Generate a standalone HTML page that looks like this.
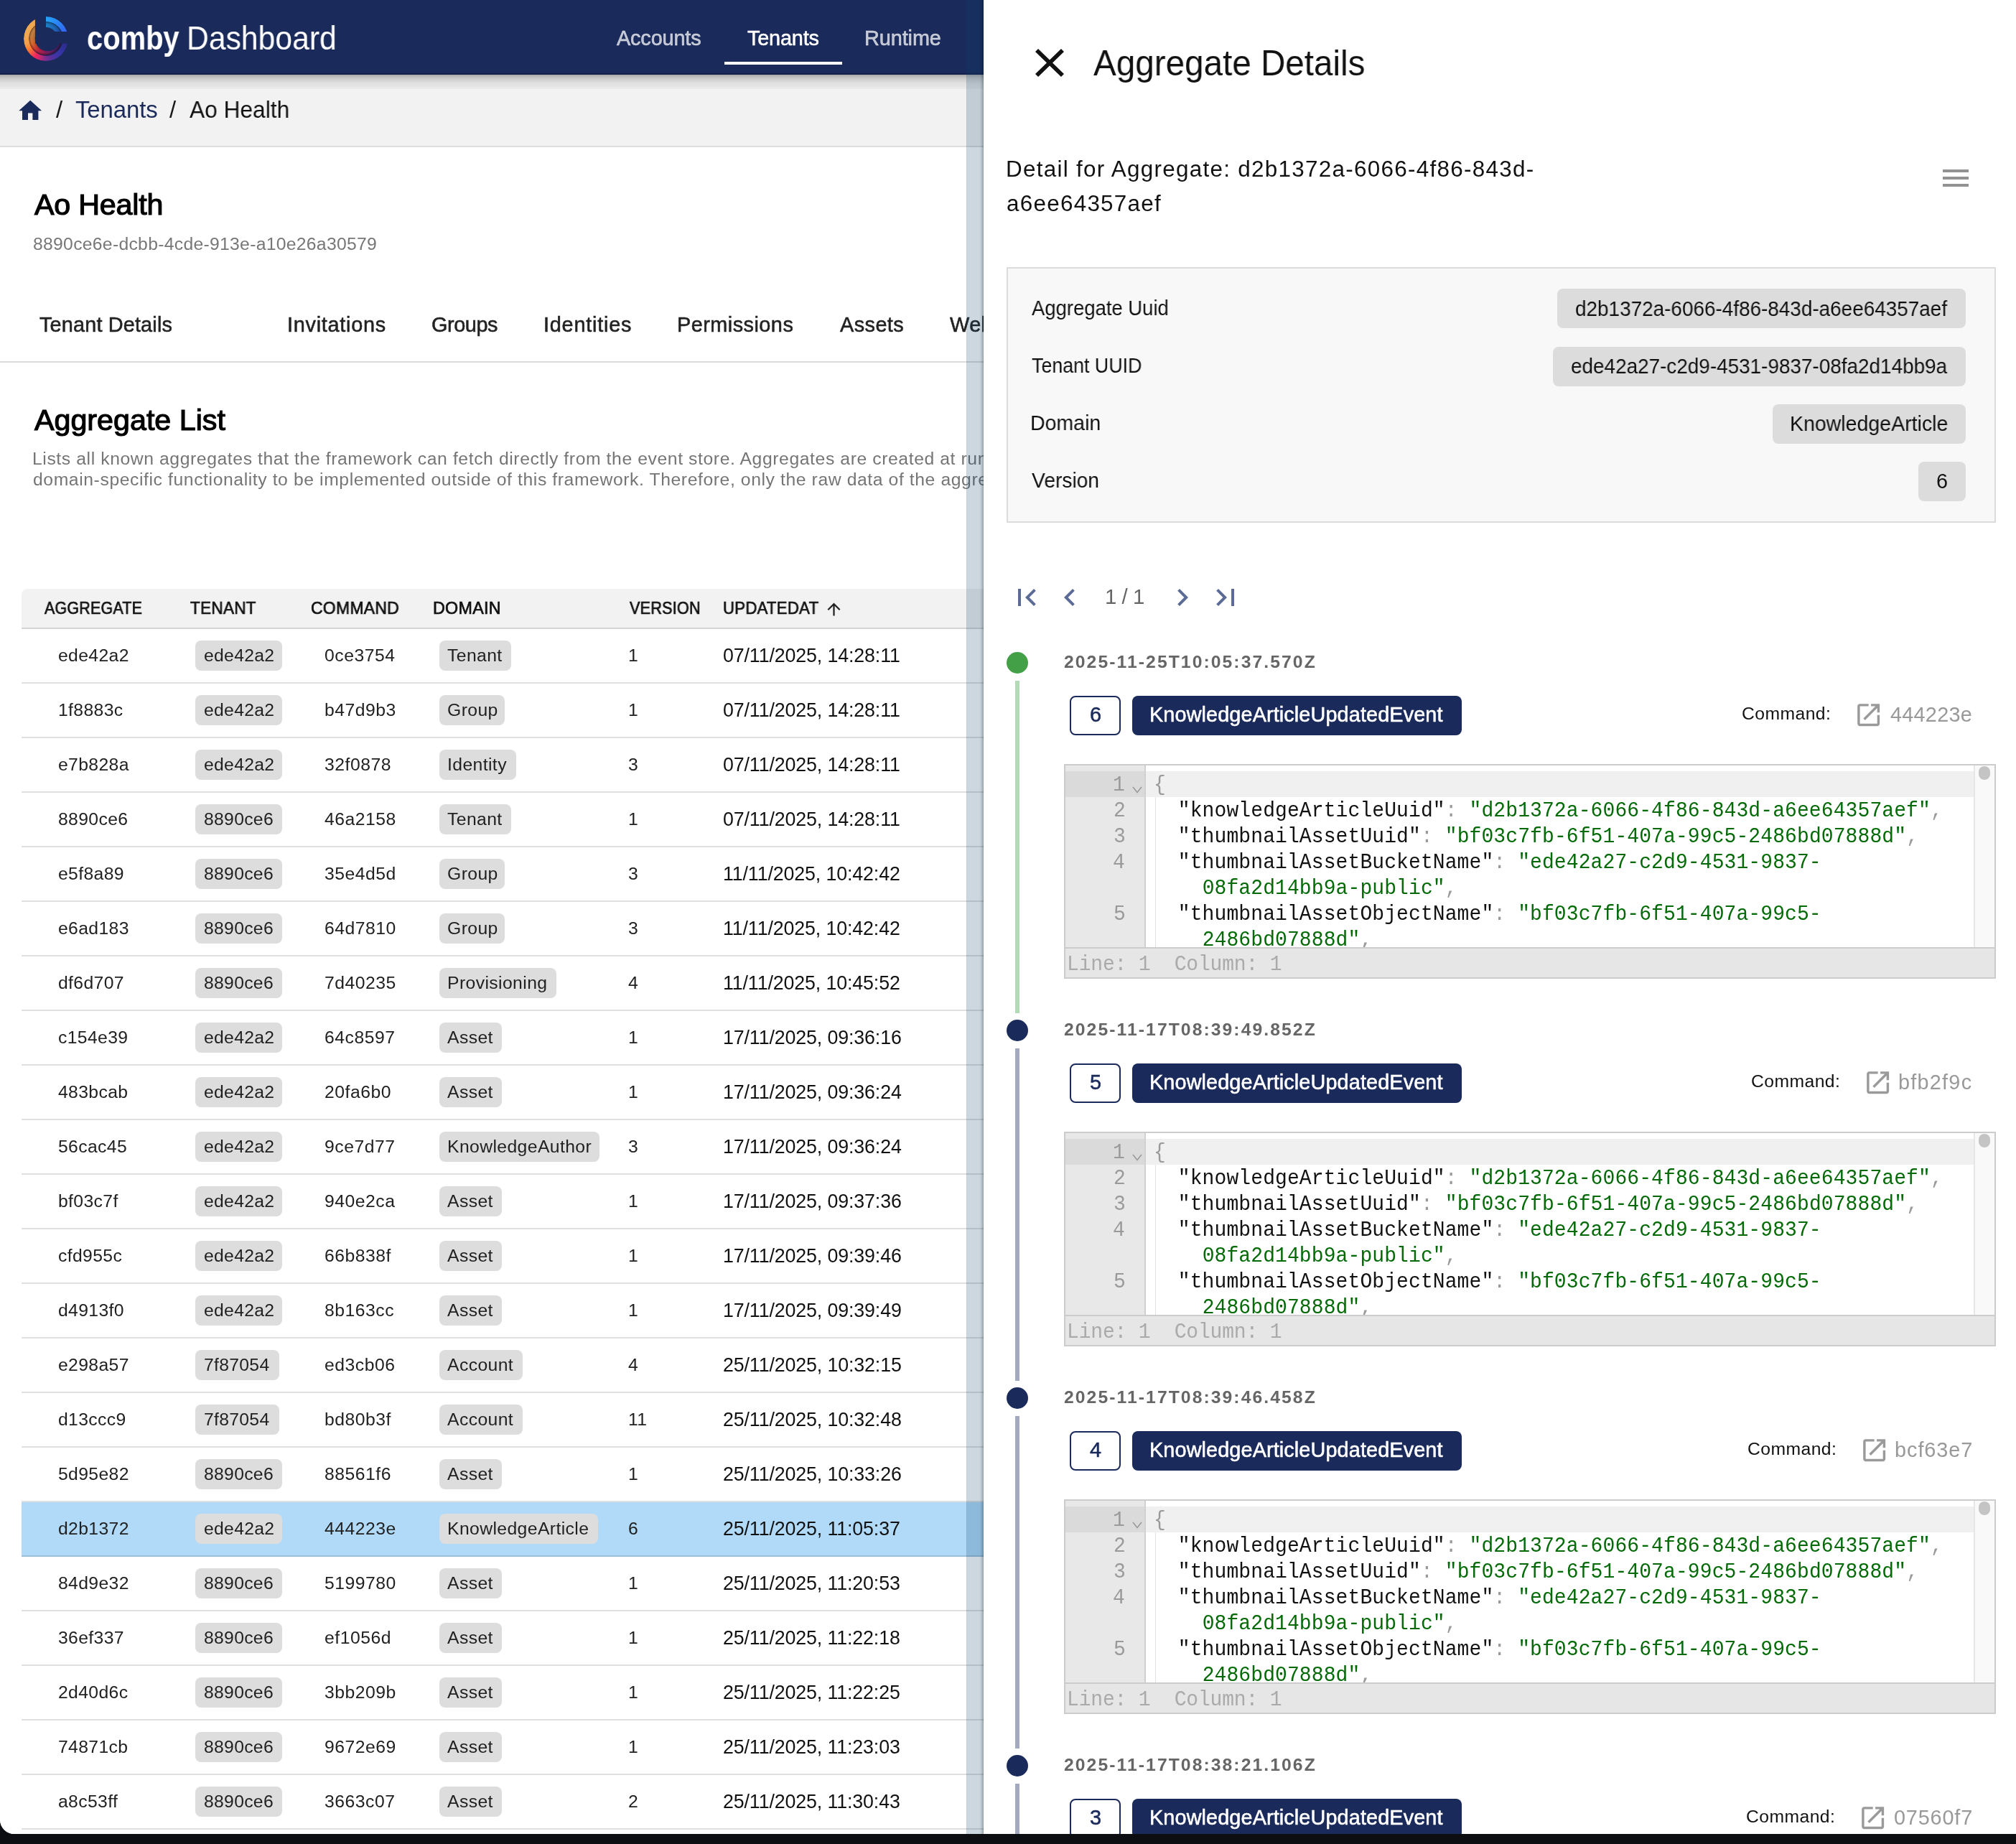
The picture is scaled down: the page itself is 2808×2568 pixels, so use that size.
<!DOCTYPE html><html><head><meta charset="utf-8"><style>*{box-sizing:border-box;margin:0;padding:0}html,body{width:2808px;height:2568px;overflow:hidden;background:#0d0e11}.win{position:absolute;left:0;top:0;width:2808px;height:2554px;background:#fff;overflow:hidden;border-bottom-left-radius:20px}.t{position:absolute;white-space:pre;line-height:1;font-family:"Liberation Sans",sans-serif;will-change:transform}.m{font-family:"Liberation Mono",monospace}</style></head><body><div class="win"><div style="position:absolute;left:0;top:0;width:1370px;height:2554px;overflow:hidden;background:#fff"><div style="position:absolute;left:0px;top:104px;width:1370px;height:101px;background:#f2f2f2"></div><div style="position:absolute;left:0px;top:104px;width:1370px;height:20px;background:linear-gradient(to bottom,rgba(0,0,0,0.30),rgba(0,0,0,0.17) 25%,rgba(0,0,0,0.07) 60%,rgba(0,0,0,0.03))"></div><div style="position:absolute;left:0px;top:124px;width:1370px;height:79px;background:#f2f2f2"></div><div style="position:absolute;left:0px;top:203px;width:1370px;height:2px;background:#dcdcdc"></div><div style="position:absolute;left:0px;top:0px;width:1370px;height:104px;background:#1a2a5a;z-index:2"></div><div style="position:absolute;left:0px;top:102px;width:1370px;height:2px;background:rgba(0,0,30,0.25);z-index:2"></div><div style="position:absolute;left:0;top:0;width:1370px;height:104px;z-index:3"><div style="position:absolute;left:0;top:0;width:120px;height:104px"><div style="position:absolute;left:32.50px;top:22.50px;width:62.50px;height:62.50px;border-radius:50%;background:conic-gradient(from 0deg, #2c2a88 0deg, #2c2a88 100deg, #3535a8 135deg, #4a32a0 158deg, #7a2d8f 180deg, #c02870 197deg, #f0245f 210deg, #f85545 225deg, #ff7f30 240deg, #f5a04a 258deg, #f0a850 285deg, #f0a850 360deg);-webkit-mask:radial-gradient(circle 23.5px at 31.25px 31.25px, transparent 23.10px, #000 23.90px);mask:radial-gradient(circle 23.5px at 31.25px 31.25px, transparent 23.10px, #000 23.90px);clip-path:polygon(-32.50px -22.50px,16.40px -22.50px,16.40px 37.90px,87.50px 37.90px,87.50px 81.50px,-32.50px 81.50px)"></div><div style="position:absolute;left:40.25px;top:30.25px;width:47.00px;height:47.00px;border-radius:50%;background:radial-gradient(circle at 50% 50%, rgba(0,0,0,0.25) 0px, rgba(0,0,0,0.1) 17.5px, rgba(0,0,0,0) 19.5px, rgba(0,0,0,0.15) 21.5px, rgba(0,0,0,0.5) 23.5px),conic-gradient(from 0deg, #301c58 0deg, #301c58 100deg, #4a1f66 140deg, #7a1f60 175deg, #c02048 208deg, #d84a30 232deg, #e07030 252deg, #c88040 280deg, #b88045 360deg);-webkit-mask:radial-gradient(circle 17.6px at 26.25px 23.50px, transparent 17.20px, #000 18.00px);mask:radial-gradient(circle 17.6px at 26.25px 23.50px, transparent 17.20px, #000 18.00px);clip-path:polygon(-40.25px -30.25px,8.65px -30.25px,8.65px 30.15px,79.75px 30.15px,79.75px 73.75px,-40.25px 73.75px)"></div><div style="position:absolute;left:32.50px;top:22.50px;width:62.50px;height:62.50px;border-radius:50%;background:conic-gradient(from 0deg, #25a2f8 0deg, #2b86f6 35deg, #3463f6 72deg, #3463f6 360deg);-webkit-mask:radial-gradient(circle 23.9px at 31.25px 31.25px, transparent 23.50px, #000 24.30px);mask:radial-gradient(circle 23.9px at 31.25px 31.25px, transparent 23.50px, #000 24.30px);clip-path:polygon(31.40px -22.50px,87.50px -22.50px,87.50px 21.50px,31.40px 21.50px)"></div><div style="position:absolute;left:39.85px;top:29.85px;width:47.80px;height:47.80px;border-radius:50%;background:radial-gradient(circle at 50% 50%, rgba(0,0,0,0.1) 15.5px, rgba(0,0,0,0) 18px, rgba(0,0,0,0.15) 21.5px, rgba(0,0,0,0.5) 23.9px),conic-gradient(from 0deg, #1d84cc 0deg, #1f6cc0 35deg, #2250b0 72deg, #2250b0 360deg);-webkit-mask:radial-gradient(circle 15.85px at 23.90px 23.90px, transparent 15.45px, #000 16.25px);mask:radial-gradient(circle 15.85px at 23.90px 23.90px, transparent 15.45px, #000 16.25px);clip-path:polygon(24.05px -29.85px,80.15px -29.85px,80.15px 14.15px,24.05px 14.15px)"></div></div><div class="t" style="left:120.84px;top:30.78px;font-size:45.32px;color:#fff;font-weight:700;transform:scale(0.8806,1);transform-origin:0 38.52px;">comby</div><div class="t" style="left:259.63px;top:30.78px;font-size:45.32px;color:#fff;transform:scale(0.9414,1);transform-origin:0 38.52px;">Dashboard</div><div class="t" style="left:858.60px;top:39.49px;font-size:28.84px;color:rgba(255,255,255,0.72);letter-spacing:-0.143px;-webkit-text-stroke:0.55px rgba(255,255,255,0.72);">Accounts</div><div class="t" style="left:1041.00px;top:39.49px;font-size:28.84px;color:#fff;letter-spacing:-0.167px;-webkit-text-stroke:0.55px #fff;">Tenants</div><div class="t" style="left:1204.00px;top:39.49px;font-size:28.84px;color:rgba(255,255,255,0.72);letter-spacing:-0.083px;-webkit-text-stroke:0.55px rgba(255,255,255,0.72);">Runtime</div><div style="position:absolute;left:1009px;top:86px;width:164px;height:4px;background:#fff"></div></div><svg style="position:absolute;left:22.7px;top:134.5px;" width="38.4" height="38.4" viewBox="0 0 24 24"><path fill="#1a2a5a" d="M10 20v-6h4v6h5v-8h3L12 3 2 12h3v8z"/></svg><div class="t" style="left:78.00px;top:137.38px;font-size:32.96px;color:#1a1a1a;">/</div><div class="t" style="left:105.30px;top:137.38px;font-size:32.96px;color:#1a2a5a;letter-spacing:-0.108px;">Tenants</div><div class="t" style="left:236.00px;top:137.38px;font-size:32.96px;color:#1a1a1a;">/</div><div class="t" style="left:264.30px;top:137.38px;font-size:32.96px;color:#111;transform:scale(0.9615,1);transform-origin:0 28.02px;">Ao Health</div><div class="t" style="left:47.50px;top:265.28px;font-size:41.20px;color:#000;letter-spacing:-0.188px;-webkit-text-stroke:1.2px #000;">Ao Health</div><div class="t" style="left:45.50px;top:328.09px;font-size:24.72px;color:#777;letter-spacing:0.289px;">8890ce6e-dcbb-4cde-913e-a10e26a30579</div><div class="t" style="left:54.80px;top:438.09px;font-size:28.84px;color:#222;letter-spacing:0.169px;-webkit-text-stroke:0.55px #222;">Tenant Details</div><div class="t" style="left:399.70px;top:438.09px;font-size:28.84px;color:#222;letter-spacing:0.740px;-webkit-text-stroke:0.55px #222;">Invitations</div><div class="t" style="left:601.00px;top:438.09px;font-size:28.84px;color:#222;letter-spacing:-0.400px;-webkit-text-stroke:0.55px #222;">Groups</div><div class="t" style="left:757.00px;top:438.09px;font-size:28.84px;color:#222;letter-spacing:0.778px;-webkit-text-stroke:0.55px #222;">Identities</div><div class="t" style="left:943.00px;top:438.09px;font-size:28.84px;color:#222;letter-spacing:0.480px;-webkit-text-stroke:0.55px #222;">Permissions</div><div class="t" style="left:1169.60px;top:438.09px;font-size:28.84px;color:#222;letter-spacing:0.440px;-webkit-text-stroke:0.55px #222;">Assets</div><div class="t" style="left:1323.00px;top:438.09px;font-size:28.84px;color:#222;letter-spacing:0.440px;-webkit-text-stroke:0.55px #222;">Webhooks</div><div style="position:absolute;left:0px;top:503px;width:1370px;height:2px;background:#dcdcdc"></div><div class="t" style="left:47.60px;top:564.58px;font-size:41.20px;color:#000;letter-spacing:0.023px;-webkit-text-stroke:1.2px #000;">Aggregate List</div><div class="t" style="left:44.60px;top:626.89px;font-size:24.72px;color:#757575;letter-spacing:0.589px;">Lists all known aggregates that the framework can fetch directly from the event store. Aggregates are created at runtime by the framework</div><div class="t" style="left:45.60px;top:655.69px;font-size:24.72px;color:#757575;letter-spacing:0.589px;">domain-specific functionality to be implemented outside of this framework. Therefore, only the raw data of the aggregates can be shown</div><div style="position:absolute;left:30px;top:820px;width:1340px;height:54px;background:#f2f2f2;border-top-left-radius:8px"></div><div style="position:absolute;left:30px;top:874px;width:1340px;height:2px;background:rgba(0,0,0,0.17)"></div><div class="t" style="left:62.10px;top:836.01px;font-size:23.28px;color:#111;letter-spacing:0.300px;-webkit-text-stroke:0.7px #111;transform:scale(0.9182,1);transform-origin:0 19.79px;">AGGREGATE</div><div class="t" style="left:265.00px;top:836.01px;font-size:23.28px;color:#111;letter-spacing:0.300px;-webkit-text-stroke:0.7px #111;transform:scale(0.9681,1);transform-origin:0 19.79px;">TENANT</div><div class="t" style="left:432.71px;top:836.01px;font-size:23.28px;color:#111;letter-spacing:0.300px;-webkit-text-stroke:0.7px #111;transform:scale(0.9854,1);transform-origin:0 19.79px;">COMMAND</div><div class="t" style="left:603.00px;top:836.01px;font-size:23.28px;color:#111;letter-spacing:0.300px;-webkit-text-stroke:0.7px #111;">DOMAIN</div><div class="t" style="left:876.60px;top:836.01px;font-size:23.28px;color:#111;letter-spacing:0.300px;-webkit-text-stroke:0.7px #111;transform:scale(0.9257,1);transform-origin:0 19.79px;">VERSION</div><div class="t" style="left:1006.55px;top:836.01px;font-size:23.28px;color:#111;letter-spacing:0.300px;-webkit-text-stroke:0.7px #111;transform:scale(0.9511,1);transform-origin:0 19.79px;">UPDATEDAT</div><svg style="position:absolute;left:1147.5px;top:835px;" width="27" height="27" viewBox="0 0 24 24"><path fill="#222" d="M4 12l1.41 1.41L11 7.83V20h2V7.83l5.58 5.59L20 12l-8-8-8 8z"/></svg><div style="position:absolute;left:30px;top:950px;width:1340px;height:2px;background:rgba(0,0,0,0.12)"></div><div class="t" style="left:80.60px;top:901.09px;font-size:24.72px;color:#212121;letter-spacing:0.367px;">ede42a2</div><div style="position:absolute;left:272px;top:892px;width:120.9px;height:42px;background:#dddddd;border-radius:8px"></div><div class="t" style="left:283.60px;top:901.09px;font-size:24.72px;color:#212121;letter-spacing:0.300px;">ede42a2</div><div class="t" style="left:452.00px;top:901.09px;font-size:24.72px;color:#212121;letter-spacing:0.517px;">0ce3754</div><div style="position:absolute;left:612px;top:892px;width:100px;height:42px;background:#dddddd;border-radius:8px"></div><div class="t" style="left:623.00px;top:901.09px;font-size:24.72px;color:#212121;letter-spacing:0.400px;">Tenant</div><div class="t" style="left:874.60px;top:901.09px;font-size:24.72px;color:#212121;letter-spacing:0.367px;">1</div><div class="t" style="left:1006.80px;top:899.94px;font-size:26.78px;color:#111;letter-spacing:-0.116px;">07/11/2025, 14:28:11</div><div style="position:absolute;left:30px;top:1026px;width:1340px;height:2px;background:rgba(0,0,0,0.12)"></div><div class="t" style="left:80.60px;top:977.09px;font-size:24.72px;color:#212121;letter-spacing:0.367px;">1f8883c</div><div style="position:absolute;left:272px;top:968px;width:120.9px;height:42px;background:#dddddd;border-radius:8px"></div><div class="t" style="left:283.60px;top:977.09px;font-size:24.72px;color:#212121;letter-spacing:0.300px;">ede42a2</div><div class="t" style="left:452.00px;top:977.09px;font-size:24.72px;color:#212121;letter-spacing:0.517px;">b47d9b3</div><div style="position:absolute;left:612px;top:968px;width:90.70000000000005px;height:42px;background:#dddddd;border-radius:8px"></div><div class="t" style="left:623.00px;top:977.09px;font-size:24.72px;color:#212121;letter-spacing:0.400px;">Group</div><div class="t" style="left:874.60px;top:977.09px;font-size:24.72px;color:#212121;letter-spacing:0.367px;">1</div><div class="t" style="left:1006.80px;top:975.94px;font-size:26.78px;color:#111;letter-spacing:-0.116px;">07/11/2025, 14:28:11</div><div style="position:absolute;left:30px;top:1102px;width:1340px;height:2px;background:rgba(0,0,0,0.12)"></div><div class="t" style="left:80.60px;top:1053.09px;font-size:24.72px;color:#212121;letter-spacing:0.367px;">e7b828a</div><div style="position:absolute;left:272px;top:1044px;width:120.9px;height:42px;background:#dddddd;border-radius:8px"></div><div class="t" style="left:283.60px;top:1053.09px;font-size:24.72px;color:#212121;letter-spacing:0.300px;">ede42a2</div><div class="t" style="left:452.00px;top:1053.09px;font-size:24.72px;color:#212121;letter-spacing:0.517px;">32f0878</div><div style="position:absolute;left:612px;top:1044px;width:106.60000000000002px;height:42px;background:#dddddd;border-radius:8px"></div><div class="t" style="left:623.00px;top:1053.09px;font-size:24.72px;color:#212121;letter-spacing:0.400px;">Identity</div><div class="t" style="left:874.60px;top:1053.09px;font-size:24.72px;color:#212121;letter-spacing:0.367px;">3</div><div class="t" style="left:1006.80px;top:1051.94px;font-size:26.78px;color:#111;letter-spacing:-0.116px;">07/11/2025, 14:28:11</div><div style="position:absolute;left:30px;top:1178px;width:1340px;height:2px;background:rgba(0,0,0,0.12)"></div><div class="t" style="left:80.60px;top:1129.09px;font-size:24.72px;color:#212121;letter-spacing:0.367px;">8890ce6</div><div style="position:absolute;left:272px;top:1120px;width:120.9px;height:42px;background:#dddddd;border-radius:8px"></div><div class="t" style="left:283.60px;top:1129.09px;font-size:24.72px;color:#212121;letter-spacing:0.300px;">8890ce6</div><div class="t" style="left:452.00px;top:1129.09px;font-size:24.72px;color:#212121;letter-spacing:0.517px;">46a2158</div><div style="position:absolute;left:612px;top:1120px;width:100px;height:42px;background:#dddddd;border-radius:8px"></div><div class="t" style="left:623.00px;top:1129.09px;font-size:24.72px;color:#212121;letter-spacing:0.400px;">Tenant</div><div class="t" style="left:874.60px;top:1129.09px;font-size:24.72px;color:#212121;letter-spacing:0.367px;">1</div><div class="t" style="left:1006.80px;top:1127.94px;font-size:26.78px;color:#111;letter-spacing:-0.116px;">07/11/2025, 14:28:11</div><div style="position:absolute;left:30px;top:1254px;width:1340px;height:2px;background:rgba(0,0,0,0.12)"></div><div class="t" style="left:80.60px;top:1205.09px;font-size:24.72px;color:#212121;letter-spacing:0.367px;">e5f8a89</div><div style="position:absolute;left:272px;top:1196px;width:120.9px;height:42px;background:#dddddd;border-radius:8px"></div><div class="t" style="left:283.60px;top:1205.09px;font-size:24.72px;color:#212121;letter-spacing:0.300px;">8890ce6</div><div class="t" style="left:452.00px;top:1205.09px;font-size:24.72px;color:#212121;letter-spacing:0.517px;">35e4d5d</div><div style="position:absolute;left:612px;top:1196px;width:90.70000000000005px;height:42px;background:#dddddd;border-radius:8px"></div><div class="t" style="left:623.00px;top:1205.09px;font-size:24.72px;color:#212121;letter-spacing:0.400px;">Group</div><div class="t" style="left:874.60px;top:1205.09px;font-size:24.72px;color:#212121;letter-spacing:0.367px;">3</div><div class="t" style="left:1006.80px;top:1203.94px;font-size:26.78px;color:#111;letter-spacing:-0.116px;">11/11/2025, 10:42:42</div><div style="position:absolute;left:30px;top:1330px;width:1340px;height:2px;background:rgba(0,0,0,0.12)"></div><div class="t" style="left:80.60px;top:1281.09px;font-size:24.72px;color:#212121;letter-spacing:0.367px;">e6ad183</div><div style="position:absolute;left:272px;top:1272px;width:120.9px;height:42px;background:#dddddd;border-radius:8px"></div><div class="t" style="left:283.60px;top:1281.09px;font-size:24.72px;color:#212121;letter-spacing:0.300px;">8890ce6</div><div class="t" style="left:452.00px;top:1281.09px;font-size:24.72px;color:#212121;letter-spacing:0.517px;">64d7810</div><div style="position:absolute;left:612px;top:1272px;width:90.70000000000005px;height:42px;background:#dddddd;border-radius:8px"></div><div class="t" style="left:623.00px;top:1281.09px;font-size:24.72px;color:#212121;letter-spacing:0.400px;">Group</div><div class="t" style="left:874.60px;top:1281.09px;font-size:24.72px;color:#212121;letter-spacing:0.367px;">3</div><div class="t" style="left:1006.80px;top:1279.94px;font-size:26.78px;color:#111;letter-spacing:-0.116px;">11/11/2025, 10:42:42</div><div style="position:absolute;left:30px;top:1406px;width:1340px;height:2px;background:rgba(0,0,0,0.12)"></div><div class="t" style="left:80.60px;top:1357.09px;font-size:24.72px;color:#212121;letter-spacing:0.367px;">df6d707</div><div style="position:absolute;left:272px;top:1348px;width:120.9px;height:42px;background:#dddddd;border-radius:8px"></div><div class="t" style="left:283.60px;top:1357.09px;font-size:24.72px;color:#212121;letter-spacing:0.300px;">8890ce6</div><div class="t" style="left:452.00px;top:1357.09px;font-size:24.72px;color:#212121;letter-spacing:0.517px;">7d40235</div><div style="position:absolute;left:612px;top:1348px;width:162.5px;height:42px;background:#dddddd;border-radius:8px"></div><div class="t" style="left:623.00px;top:1357.09px;font-size:24.72px;color:#212121;letter-spacing:0.400px;">Provisioning</div><div class="t" style="left:874.60px;top:1357.09px;font-size:24.72px;color:#212121;letter-spacing:0.367px;">4</div><div class="t" style="left:1006.80px;top:1355.94px;font-size:26.78px;color:#111;letter-spacing:-0.116px;">11/11/2025, 10:45:52</div><div style="position:absolute;left:30px;top:1482px;width:1340px;height:2px;background:rgba(0,0,0,0.12)"></div><div class="t" style="left:80.60px;top:1433.09px;font-size:24.72px;color:#212121;letter-spacing:0.367px;">c154e39</div><div style="position:absolute;left:272px;top:1424px;width:120.9px;height:42px;background:#dddddd;border-radius:8px"></div><div class="t" style="left:283.60px;top:1433.09px;font-size:24.72px;color:#212121;letter-spacing:0.300px;">ede42a2</div><div class="t" style="left:452.00px;top:1433.09px;font-size:24.72px;color:#212121;letter-spacing:0.517px;">64c8597</div><div style="position:absolute;left:612px;top:1424px;width:86.70000000000005px;height:42px;background:#dddddd;border-radius:8px"></div><div class="t" style="left:623.00px;top:1433.09px;font-size:24.72px;color:#212121;letter-spacing:0.400px;">Asset</div><div class="t" style="left:874.60px;top:1433.09px;font-size:24.72px;color:#212121;letter-spacing:0.367px;">1</div><div class="t" style="left:1006.80px;top:1431.94px;font-size:26.78px;color:#111;letter-spacing:-0.116px;">17/11/2025, 09:36:16</div><div style="position:absolute;left:30px;top:1558px;width:1340px;height:2px;background:rgba(0,0,0,0.12)"></div><div class="t" style="left:80.60px;top:1509.09px;font-size:24.72px;color:#212121;letter-spacing:0.367px;">483bcab</div><div style="position:absolute;left:272px;top:1500px;width:120.9px;height:42px;background:#dddddd;border-radius:8px"></div><div class="t" style="left:283.60px;top:1509.09px;font-size:24.72px;color:#212121;letter-spacing:0.300px;">ede42a2</div><div class="t" style="left:452.00px;top:1509.09px;font-size:24.72px;color:#212121;letter-spacing:0.517px;">20fa6b0</div><div style="position:absolute;left:612px;top:1500px;width:86.70000000000005px;height:42px;background:#dddddd;border-radius:8px"></div><div class="t" style="left:623.00px;top:1509.09px;font-size:24.72px;color:#212121;letter-spacing:0.400px;">Asset</div><div class="t" style="left:874.60px;top:1509.09px;font-size:24.72px;color:#212121;letter-spacing:0.367px;">1</div><div class="t" style="left:1006.80px;top:1507.94px;font-size:26.78px;color:#111;letter-spacing:-0.116px;">17/11/2025, 09:36:24</div><div style="position:absolute;left:30px;top:1634px;width:1340px;height:2px;background:rgba(0,0,0,0.12)"></div><div class="t" style="left:80.60px;top:1585.09px;font-size:24.72px;color:#212121;letter-spacing:0.367px;">56cac45</div><div style="position:absolute;left:272px;top:1576px;width:120.9px;height:42px;background:#dddddd;border-radius:8px"></div><div class="t" style="left:283.60px;top:1585.09px;font-size:24.72px;color:#212121;letter-spacing:0.300px;">ede42a2</div><div class="t" style="left:452.00px;top:1585.09px;font-size:24.72px;color:#212121;letter-spacing:0.517px;">9ce7d77</div><div style="position:absolute;left:612px;top:1576px;width:223.20000000000005px;height:42px;background:#dddddd;border-radius:8px"></div><div class="t" style="left:623.00px;top:1585.09px;font-size:24.72px;color:#212121;letter-spacing:0.400px;">KnowledgeAuthor</div><div class="t" style="left:874.60px;top:1585.09px;font-size:24.72px;color:#212121;letter-spacing:0.367px;">3</div><div class="t" style="left:1006.80px;top:1583.94px;font-size:26.78px;color:#111;letter-spacing:-0.116px;">17/11/2025, 09:36:24</div><div style="position:absolute;left:30px;top:1710px;width:1340px;height:2px;background:rgba(0,0,0,0.12)"></div><div class="t" style="left:80.60px;top:1661.09px;font-size:24.72px;color:#212121;letter-spacing:0.367px;">bf03c7f</div><div style="position:absolute;left:272px;top:1652px;width:120.9px;height:42px;background:#dddddd;border-radius:8px"></div><div class="t" style="left:283.60px;top:1661.09px;font-size:24.72px;color:#212121;letter-spacing:0.300px;">ede42a2</div><div class="t" style="left:452.00px;top:1661.09px;font-size:24.72px;color:#212121;letter-spacing:0.517px;">940e2ca</div><div style="position:absolute;left:612px;top:1652px;width:86.70000000000005px;height:42px;background:#dddddd;border-radius:8px"></div><div class="t" style="left:623.00px;top:1661.09px;font-size:24.72px;color:#212121;letter-spacing:0.400px;">Asset</div><div class="t" style="left:874.60px;top:1661.09px;font-size:24.72px;color:#212121;letter-spacing:0.367px;">1</div><div class="t" style="left:1006.80px;top:1659.94px;font-size:26.78px;color:#111;letter-spacing:-0.116px;">17/11/2025, 09:37:36</div><div style="position:absolute;left:30px;top:1786px;width:1340px;height:2px;background:rgba(0,0,0,0.12)"></div><div class="t" style="left:80.60px;top:1737.09px;font-size:24.72px;color:#212121;letter-spacing:0.367px;">cfd955c</div><div style="position:absolute;left:272px;top:1728px;width:120.9px;height:42px;background:#dddddd;border-radius:8px"></div><div class="t" style="left:283.60px;top:1737.09px;font-size:24.72px;color:#212121;letter-spacing:0.300px;">ede42a2</div><div class="t" style="left:452.00px;top:1737.09px;font-size:24.72px;color:#212121;letter-spacing:0.517px;">66b838f</div><div style="position:absolute;left:612px;top:1728px;width:86.70000000000005px;height:42px;background:#dddddd;border-radius:8px"></div><div class="t" style="left:623.00px;top:1737.09px;font-size:24.72px;color:#212121;letter-spacing:0.400px;">Asset</div><div class="t" style="left:874.60px;top:1737.09px;font-size:24.72px;color:#212121;letter-spacing:0.367px;">1</div><div class="t" style="left:1006.80px;top:1735.94px;font-size:26.78px;color:#111;letter-spacing:-0.116px;">17/11/2025, 09:39:46</div><div style="position:absolute;left:30px;top:1862px;width:1340px;height:2px;background:rgba(0,0,0,0.12)"></div><div class="t" style="left:80.60px;top:1813.09px;font-size:24.72px;color:#212121;letter-spacing:0.367px;">d4913f0</div><div style="position:absolute;left:272px;top:1804px;width:120.9px;height:42px;background:#dddddd;border-radius:8px"></div><div class="t" style="left:283.60px;top:1813.09px;font-size:24.72px;color:#212121;letter-spacing:0.300px;">ede42a2</div><div class="t" style="left:452.00px;top:1813.09px;font-size:24.72px;color:#212121;letter-spacing:0.517px;">8b163cc</div><div style="position:absolute;left:612px;top:1804px;width:86.70000000000005px;height:42px;background:#dddddd;border-radius:8px"></div><div class="t" style="left:623.00px;top:1813.09px;font-size:24.72px;color:#212121;letter-spacing:0.400px;">Asset</div><div class="t" style="left:874.60px;top:1813.09px;font-size:24.72px;color:#212121;letter-spacing:0.367px;">1</div><div class="t" style="left:1006.80px;top:1811.94px;font-size:26.78px;color:#111;letter-spacing:-0.116px;">17/11/2025, 09:39:49</div><div style="position:absolute;left:30px;top:1938px;width:1340px;height:2px;background:rgba(0,0,0,0.12)"></div><div class="t" style="left:80.60px;top:1889.09px;font-size:24.72px;color:#212121;letter-spacing:0.367px;">e298a57</div><div style="position:absolute;left:272px;top:1880px;width:117.4px;height:42px;background:#dddddd;border-radius:8px"></div><div class="t" style="left:283.60px;top:1889.09px;font-size:24.72px;color:#212121;letter-spacing:0.300px;">7f87054</div><div class="t" style="left:452.00px;top:1889.09px;font-size:24.72px;color:#212121;letter-spacing:0.517px;">ed3cb06</div><div style="position:absolute;left:612px;top:1880px;width:115.79999999999995px;height:42px;background:#dddddd;border-radius:8px"></div><div class="t" style="left:623.00px;top:1889.09px;font-size:24.72px;color:#212121;letter-spacing:0.400px;">Account</div><div class="t" style="left:874.60px;top:1889.09px;font-size:24.72px;color:#212121;letter-spacing:0.367px;">4</div><div class="t" style="left:1006.80px;top:1887.94px;font-size:26.78px;color:#111;letter-spacing:-0.116px;">25/11/2025, 10:32:15</div><div style="position:absolute;left:30px;top:2014px;width:1340px;height:2px;background:rgba(0,0,0,0.12)"></div><div class="t" style="left:80.60px;top:1965.09px;font-size:24.72px;color:#212121;letter-spacing:0.367px;">d13ccc9</div><div style="position:absolute;left:272px;top:1956px;width:117.4px;height:42px;background:#dddddd;border-radius:8px"></div><div class="t" style="left:283.60px;top:1965.09px;font-size:24.72px;color:#212121;letter-spacing:0.300px;">7f87054</div><div class="t" style="left:452.00px;top:1965.09px;font-size:24.72px;color:#212121;letter-spacing:0.517px;">bd80b3f</div><div style="position:absolute;left:612px;top:1956px;width:115.79999999999995px;height:42px;background:#dddddd;border-radius:8px"></div><div class="t" style="left:623.00px;top:1965.09px;font-size:24.72px;color:#212121;letter-spacing:0.400px;">Account</div><div class="t" style="left:874.60px;top:1965.09px;font-size:24.72px;color:#212121;letter-spacing:0.367px;">11</div><div class="t" style="left:1006.80px;top:1963.94px;font-size:26.78px;color:#111;letter-spacing:-0.116px;">25/11/2025, 10:32:48</div><div style="position:absolute;left:30px;top:2090px;width:1340px;height:2px;background:rgba(0,0,0,0.12)"></div><div class="t" style="left:80.60px;top:2041.09px;font-size:24.72px;color:#212121;letter-spacing:0.367px;">5d95e82</div><div style="position:absolute;left:272px;top:2032px;width:120.9px;height:42px;background:#dddddd;border-radius:8px"></div><div class="t" style="left:283.60px;top:2041.09px;font-size:24.72px;color:#212121;letter-spacing:0.300px;">8890ce6</div><div class="t" style="left:452.00px;top:2041.09px;font-size:24.72px;color:#212121;letter-spacing:0.517px;">88561f6</div><div style="position:absolute;left:612px;top:2032px;width:86.70000000000005px;height:42px;background:#dddddd;border-radius:8px"></div><div class="t" style="left:623.00px;top:2041.09px;font-size:24.72px;color:#212121;letter-spacing:0.400px;">Asset</div><div class="t" style="left:874.60px;top:2041.09px;font-size:24.72px;color:#212121;letter-spacing:0.367px;">1</div><div class="t" style="left:1006.80px;top:2039.94px;font-size:26.78px;color:#111;letter-spacing:-0.116px;">25/11/2025, 10:33:26</div><div style="position:absolute;left:30px;top:2092px;width:1340px;height:76px;background:#b0daf8"></div><div style="position:absolute;left:30px;top:2166px;width:1340px;height:2px;background:rgba(0,0,0,0.12)"></div><div class="t" style="left:80.60px;top:2117.09px;font-size:24.72px;color:#212121;letter-spacing:0.367px;">d2b1372</div><div style="position:absolute;left:272px;top:2108px;width:120.9px;height:42px;background:#dddddd;border-radius:8px"></div><div class="t" style="left:283.60px;top:2117.09px;font-size:24.72px;color:#212121;letter-spacing:0.300px;">ede42a2</div><div class="t" style="left:452.00px;top:2117.09px;font-size:24.72px;color:#212121;letter-spacing:0.517px;">444223e</div><div style="position:absolute;left:612px;top:2108px;width:221.29999999999995px;height:42px;background:#dddddd;border-radius:8px"></div><div class="t" style="left:623.00px;top:2117.09px;font-size:24.72px;color:#212121;letter-spacing:0.400px;">KnowledgeArticle</div><div class="t" style="left:874.60px;top:2117.09px;font-size:24.72px;color:#212121;letter-spacing:0.367px;">6</div><div class="t" style="left:1006.80px;top:2115.94px;font-size:26.78px;color:#111;letter-spacing:-0.116px;">25/11/2025, 11:05:37</div><div style="position:absolute;left:30px;top:2242px;width:1340px;height:2px;background:rgba(0,0,0,0.12)"></div><div class="t" style="left:80.60px;top:2193.09px;font-size:24.72px;color:#212121;letter-spacing:0.367px;">84d9e32</div><div style="position:absolute;left:272px;top:2184px;width:120.9px;height:42px;background:#dddddd;border-radius:8px"></div><div class="t" style="left:283.60px;top:2193.09px;font-size:24.72px;color:#212121;letter-spacing:0.300px;">8890ce6</div><div class="t" style="left:452.00px;top:2193.09px;font-size:24.72px;color:#212121;letter-spacing:0.517px;">5199780</div><div style="position:absolute;left:612px;top:2184px;width:86.70000000000005px;height:42px;background:#dddddd;border-radius:8px"></div><div class="t" style="left:623.00px;top:2193.09px;font-size:24.72px;color:#212121;letter-spacing:0.400px;">Asset</div><div class="t" style="left:874.60px;top:2193.09px;font-size:24.72px;color:#212121;letter-spacing:0.367px;">1</div><div class="t" style="left:1006.80px;top:2191.94px;font-size:26.78px;color:#111;letter-spacing:-0.116px;">25/11/2025, 11:20:53</div><div style="position:absolute;left:30px;top:2318px;width:1340px;height:2px;background:rgba(0,0,0,0.12)"></div><div class="t" style="left:80.60px;top:2269.09px;font-size:24.72px;color:#212121;letter-spacing:0.367px;">36ef337</div><div style="position:absolute;left:272px;top:2260px;width:120.9px;height:42px;background:#dddddd;border-radius:8px"></div><div class="t" style="left:283.60px;top:2269.09px;font-size:24.72px;color:#212121;letter-spacing:0.300px;">8890ce6</div><div class="t" style="left:452.00px;top:2269.09px;font-size:24.72px;color:#212121;letter-spacing:0.517px;">ef1056d</div><div style="position:absolute;left:612px;top:2260px;width:86.70000000000005px;height:42px;background:#dddddd;border-radius:8px"></div><div class="t" style="left:623.00px;top:2269.09px;font-size:24.72px;color:#212121;letter-spacing:0.400px;">Asset</div><div class="t" style="left:874.60px;top:2269.09px;font-size:24.72px;color:#212121;letter-spacing:0.367px;">1</div><div class="t" style="left:1006.80px;top:2267.94px;font-size:26.78px;color:#111;letter-spacing:-0.116px;">25/11/2025, 11:22:18</div><div style="position:absolute;left:30px;top:2394px;width:1340px;height:2px;background:rgba(0,0,0,0.12)"></div><div class="t" style="left:80.60px;top:2345.09px;font-size:24.72px;color:#212121;letter-spacing:0.367px;">2d40d6c</div><div style="position:absolute;left:272px;top:2336px;width:120.9px;height:42px;background:#dddddd;border-radius:8px"></div><div class="t" style="left:283.60px;top:2345.09px;font-size:24.72px;color:#212121;letter-spacing:0.300px;">8890ce6</div><div class="t" style="left:452.00px;top:2345.09px;font-size:24.72px;color:#212121;letter-spacing:0.517px;">3bb209b</div><div style="position:absolute;left:612px;top:2336px;width:86.70000000000005px;height:42px;background:#dddddd;border-radius:8px"></div><div class="t" style="left:623.00px;top:2345.09px;font-size:24.72px;color:#212121;letter-spacing:0.400px;">Asset</div><div class="t" style="left:874.60px;top:2345.09px;font-size:24.72px;color:#212121;letter-spacing:0.367px;">1</div><div class="t" style="left:1006.80px;top:2343.94px;font-size:26.78px;color:#111;letter-spacing:-0.116px;">25/11/2025, 11:22:25</div><div style="position:absolute;left:30px;top:2470px;width:1340px;height:2px;background:rgba(0,0,0,0.12)"></div><div class="t" style="left:80.60px;top:2421.09px;font-size:24.72px;color:#212121;letter-spacing:0.367px;">74871cb</div><div style="position:absolute;left:272px;top:2412px;width:120.9px;height:42px;background:#dddddd;border-radius:8px"></div><div class="t" style="left:283.60px;top:2421.09px;font-size:24.72px;color:#212121;letter-spacing:0.300px;">8890ce6</div><div class="t" style="left:452.00px;top:2421.09px;font-size:24.72px;color:#212121;letter-spacing:0.517px;">9672e69</div><div style="position:absolute;left:612px;top:2412px;width:86.70000000000005px;height:42px;background:#dddddd;border-radius:8px"></div><div class="t" style="left:623.00px;top:2421.09px;font-size:24.72px;color:#212121;letter-spacing:0.400px;">Asset</div><div class="t" style="left:874.60px;top:2421.09px;font-size:24.72px;color:#212121;letter-spacing:0.367px;">1</div><div class="t" style="left:1006.80px;top:2419.94px;font-size:26.78px;color:#111;letter-spacing:-0.116px;">25/11/2025, 11:23:03</div><div style="position:absolute;left:30px;top:2546px;width:1340px;height:2px;background:rgba(0,0,0,0.12)"></div><div class="t" style="left:80.60px;top:2497.09px;font-size:24.72px;color:#212121;letter-spacing:0.367px;">a8c53ff</div><div style="position:absolute;left:272px;top:2488px;width:120.9px;height:42px;background:#dddddd;border-radius:8px"></div><div class="t" style="left:283.60px;top:2497.09px;font-size:24.72px;color:#212121;letter-spacing:0.300px;">8890ce6</div><div class="t" style="left:452.00px;top:2497.09px;font-size:24.72px;color:#212121;letter-spacing:0.517px;">3663c07</div><div style="position:absolute;left:612px;top:2488px;width:86.70000000000005px;height:42px;background:#dddddd;border-radius:8px"></div><div class="t" style="left:623.00px;top:2497.09px;font-size:24.72px;color:#212121;letter-spacing:0.400px;">Asset</div><div class="t" style="left:874.60px;top:2497.09px;font-size:24.72px;color:#212121;letter-spacing:0.367px;">2</div><div class="t" style="left:1006.80px;top:2495.94px;font-size:26.78px;color:#111;letter-spacing:-0.116px;">25/11/2025, 11:30:43</div></div><div style="position:absolute;left:1346px;top:0px;width:24px;height:2554px;background:rgba(15,65,110,0.21);z-index:5"></div><div style="position:absolute;left:1346px;top:0px;width:1px;height:2554px;background:rgba(15,65,110,0.06);z-index:5"></div><div style="position:absolute;left:1364px;top:0px;width:6px;height:2554px;background:linear-gradient(to right,rgba(0,0,0,0),rgba(0,0,0,0.06) 40%,rgba(0,0,0,0.26));z-index:6"></div><div style="position:absolute;left:1370px;top:0;width:1438px;height:2554px;overflow:hidden;background:#fff;z-index:7"><div style="position:absolute;left:-1370px;top:0;width:2808px;height:2554px"><svg style="position:absolute;left:1442px;top:68px" width="40" height="39" viewBox="5 5 14 14" preserveAspectRatio="none"><path fill="#111" d="M19 6.41 17.59 5 12 10.59 6.41 5 5 6.41 10.59 12 5 17.59 6.41 19 12 13.41 17.59 19 19 17.59 13.41 12z"/></svg><div class="t" style="left:1523.00px;top:62.78px;font-size:49.44px;color:#111;transform:scale(0.9629,1);transform-origin:0 42.02px;">Aggregate Details</div><div class="t" style="left:1401.40px;top:220.35px;font-size:31.41px;color:#111;letter-spacing:1.284px;">Detail for Aggregate: d2b1372a-6066-4f86-843d-</div><div class="t" style="left:1402.40px;top:267.70px;font-size:31.41px;color:#111;letter-spacing:1.264px;">a6ee64357aef</div><div style="position:absolute;left:2706px;top:236px;width:36px;height:4px;background:#929292"></div><div style="position:absolute;left:2706px;top:246px;width:36px;height:4px;background:#929292"></div><div style="position:absolute;left:2706px;top:256px;width:36px;height:4px;background:#929292"></div><div style="position:absolute;left:1402px;top:372px;width:1378px;height:356px;background:#f8f8f8;border:2px solid #dcdcdc"></div><div class="t" style="left:1437.00px;top:415.29px;font-size:28.84px;color:#111;transform:scale(0.9523,1);transform-origin:0 24.51px;">Aggregate Uuid</div><div class="t" style="left:1437.00px;top:495.29px;font-size:28.84px;color:#111;transform:scale(0.9293,1);transform-origin:0 24.51px;">Tenant UUID</div><div class="t" style="left:1435.02px;top:575.29px;font-size:28.84px;color:#111;transform:scale(0.9896,1);transform-origin:0 24.51px;">Domain</div><div class="t" style="left:1437.00px;top:655.29px;font-size:28.84px;color:#111;transform:scale(0.9787,1);transform-origin:0 24.51px;">Version</div><div style="position:absolute;left:2169px;top:402.2px;width:569px;height:55px;background:#dcdcdc;border-radius:8px"></div><div class="t" style="left:2194.03px;top:415.79px;font-size:28.84px;color:#111;transform:scale(0.9675,1);transform-origin:0 24.51px;">d2b1372a-6066-4f86-843d-a6ee64357aef</div><div style="position:absolute;left:2163px;top:482.5px;width:575px;height:55px;background:#dcdcdc;border-radius:8px"></div><div class="t" style="left:2188.33px;top:496.09px;font-size:28.84px;color:#111;transform:scale(0.9673,1);transform-origin:0 24.51px;">ede42a27-c2d9-4531-9837-08fa2d14bb9a</div><div style="position:absolute;left:2469px;top:562.5px;width:269px;height:55px;background:#dcdcdc;border-radius:8px"></div><div class="t" style="left:2493.02px;top:576.09px;font-size:28.84px;color:#111;transform:scale(0.9891,1);transform-origin:0 24.51px;">KnowledgeArticle</div><div style="position:absolute;left:2672px;top:642.5px;width:66px;height:55px;background:#dcdcdc;border-radius:8px"></div><div class="t" style="left:2697.00px;top:656.09px;font-size:28.84px;color:#111;">6</div><svg style="position:absolute;left:1405.8px;top:808px;" width="48" height="48" viewBox="0 0 24 24"><path fill="#5b6b95" d="M18.41 16.59L13.82 12l4.59-4.59L17 6l-6 6 6 6zM6 6h2v12H6z"/></svg><svg style="position:absolute;left:1465.9px;top:808px;" width="48" height="48" viewBox="0 0 24 24"><path fill="#5b6b95" d="M15.41 7.41L14 6l-6 6 6 6 1.41-1.41L10.83 12z"/></svg><svg style="position:absolute;left:1623.2px;top:808px;" width="48" height="48" viewBox="0 0 24 24"><path fill="#5b6b95" d="M10 6L8.59 7.41 13.17 12l-4.58 4.59L10 18l6-6z"/></svg><svg style="position:absolute;left:1683.4px;top:808px;" width="48" height="48" viewBox="0 0 24 24"><path fill="#5b6b95" d="M5.59 7.41L10.18 12l-4.59 4.59L7 18l6-6-6-6zM16 6h2v12h-2z"/></svg><div class="t" style="left:1539.00px;top:816.15px;font-size:29.36px;color:#666;letter-spacing:-0.450px;">1 / 1</div><div style="position:absolute;left:1402px;top:908px;width:30px;height:30px;border-radius:50%;background:#43a047"></div><div style="position:absolute;left:1414px;top:948px;width:6px;height:463px;background:#b2dab4"></div><div class="t" style="left:1481.70px;top:910.09px;font-size:24.72px;color:#666;letter-spacing:2.061px;font-weight:700;">2025-11-25T10:05:37.570Z</div><div style="position:absolute;left:1490px;top:968.5px;width:71px;height:55px;border:2px solid #1a2a5a;border-radius:8px;background:#fff"></div><div class="t" style="left:1517.50px;top:981.09px;font-size:28.84px;color:#1a2a5a;-webkit-text-stroke:0.55px #1a2a5a;">6</div><div style="position:absolute;left:1577px;top:968.5px;width:459px;height:55px;background:#1a2a5a;border-radius:8px"></div><div class="t" style="left:1601.00px;top:981.09px;font-size:28.84px;color:#fff;letter-spacing:0.111px;-webkit-text-stroke:0.55px #fff;">KnowledgeArticleUpdatedEvent</div><div class="t" style="left:2633.00px;top:981.29px;font-size:28.84px;color:#999;letter-spacing:0.250px;">444223e</div><svg style="position:absolute;left:2582.1000000000004px;top:975.3px;" width="41.3" height="41.3" viewBox="0 0 24 24"><path fill="#9a9a9a" d="M19 19H5V5h7V3H5c-1.11 0-2 .9-2 2v14c0 1.1.89 2 2 2h14c1.1 0 2-.9 2-2v-7h-2v7zM14 3v2h3.59l-9.83 9.83 1.41 1.41L19 6.41V10h2V3h-7z"/></svg><div class="t" style="left:2426.40px;top:981.79px;font-size:24.72px;color:#111;letter-spacing:0.429px;">Command:</div><div style="position:absolute;left:1482px;top:1064px;width:1298px;height:299px;border:2px solid #cccccc;background:#fff"></div><div style="position:absolute;left:1484px;top:1066px;width:110px;height:253px;background:#e8e8e8"></div><div style="position:absolute;left:1594px;top:1066px;width:2px;height:253px;background:#d0d0d0"></div><div style="position:absolute;left:1484px;top:1074px;width:110px;height:36px;background:#dadada"></div><div style="position:absolute;left:1596px;top:1074px;width:1153px;height:36px;background:#f0f0f0"></div><div style="position:absolute;left:1608.5px;top:1110px;width:1.5px;height:209px;background:#e2e2e2"></div><div style="position:absolute;left:2749px;top:1066px;width:29px;height:253px;background:#f9f9f9;border-left:2px solid #e6e6e6"></div><div style="position:absolute;left:2756px;top:1067px;width:16px;height:19px;background:#c4c4c4;border-radius:8px"></div><div style="position:absolute;left:1596px;top:1066px;width:1153px;height:253px;overflow:hidden"><div style="position:absolute;left:-1596px;top:-1066px;width:2808px;height:2568px"><div class="t m" style="left:1606.60px;top:1080.22px;font-size:28px;letter-spacing:0.102px;transform:scaleY(1.08);transform-origin:0 21.28px"><span style="color:#9a9a9a">{</span></div><div class="t m" style="left:1606.60px;top:1116.22px;font-size:28px;letter-spacing:0.102px;transform:scaleY(1.08);transform-origin:0 21.28px"><span style="color:#111">  </span><span style="color:#111">"knowledgeArticleUuid"</span><span style="color:#9a9a9a">: </span><span style="color:#036a07">"d2b1372a-6066-4f86-843d-a6ee64357aef"</span><span style="color:#9a9a9a">,</span></div><div class="t m" style="left:1606.60px;top:1152.22px;font-size:28px;letter-spacing:0.102px;transform:scaleY(1.08);transform-origin:0 21.28px"><span style="color:#111">  </span><span style="color:#111">"thumbnailAssetUuid"</span><span style="color:#9a9a9a">: </span><span style="color:#036a07">"bf03c7fb-6f51-407a-99c5-2486bd07888d"</span><span style="color:#9a9a9a">,</span></div><div class="t m" style="left:1606.60px;top:1188.22px;font-size:28px;letter-spacing:0.102px;transform:scaleY(1.08);transform-origin:0 21.28px"><span style="color:#111">  </span><span style="color:#111">"thumbnailAssetBucketName"</span><span style="color:#9a9a9a">: </span><span style="color:#036a07">"ede42a27-c2d9-4531-9837-</span></div><div class="t m" style="left:1606.60px;top:1224.22px;font-size:28px;letter-spacing:0.102px;transform:scaleY(1.08);transform-origin:0 21.28px"><span style="color:#111">    </span><span style="color:#036a07">08fa2d14bb9a-public"</span><span style="color:#9a9a9a">,</span></div><div class="t m" style="left:1606.60px;top:1260.22px;font-size:28px;letter-spacing:0.102px;transform:scaleY(1.08);transform-origin:0 21.28px"><span style="color:#111">  </span><span style="color:#111">"thumbnailAssetObjectName"</span><span style="color:#9a9a9a">: </span><span style="color:#036a07">"bf03c7fb-6f51-407a-99c5-</span></div><div class="t m" style="left:1606.60px;top:1296.22px;font-size:28px;letter-spacing:0.102px;transform:scaleY(1.08);transform-origin:0 21.28px"><span style="color:#111">    </span><span style="color:#036a07">2486bd07888d"</span><span style="color:#9a9a9a">,</span></div></div></div><div class="t" style="left:1549.50px;top:1080.22px;font-size:28.00px;color:#9a9a9a;font-family:'Liberation Mono',monospace;transform:scale(1.0000,1.08);transform-origin:0 21.28px;">1</div><div class="t" style="left:1550.50px;top:1116.22px;font-size:28.00px;color:#9a9a9a;font-family:'Liberation Mono',monospace;transform:scale(1.0000,1.08);transform-origin:0 21.28px;">2</div><div class="t" style="left:1550.50px;top:1152.22px;font-size:28.00px;color:#9a9a9a;font-family:'Liberation Mono',monospace;transform:scale(1.0000,1.08);transform-origin:0 21.28px;">3</div><div class="t" style="left:1549.50px;top:1188.22px;font-size:28.00px;color:#9a9a9a;font-family:'Liberation Mono',monospace;transform:scale(1.0000,1.08);transform-origin:0 21.28px;">4</div><div class="t" style="left:1550.50px;top:1260.22px;font-size:28.00px;color:#9a9a9a;font-family:'Liberation Mono',monospace;transform:scale(1.0000,1.08);transform-origin:0 21.28px;">5</div><svg style="position:absolute;left:1577px;top:1095px" width="14" height="10" viewBox="0 0 14 10"><path d="M1 1 L7 8.5 L13 1" fill="none" stroke="#9a9a9a" stroke-width="1.6"/></svg><div style="position:absolute;left:1484px;top:1318.6px;width:1294px;height:42.4px;background:#e6e6e6;border-top:2px solid #cccccc"></div><div class="t" style="left:1486.00px;top:1330.22px;font-size:28.00px;color:#aaaaaa;letter-spacing:-0.176px;font-family:'Liberation Mono',monospace;transform:scale(1.0000,1.08);transform-origin:0 21.28px;">Line: 1  Column: 1</div><div style="position:absolute;left:1402px;top:1420px;width:30px;height:30px;border-radius:50%;background:#1a2a5a"></div><div style="position:absolute;left:1414px;top:1460px;width:6px;height:463px;background:#a3a9c1"></div><div class="t" style="left:1481.70px;top:1422.09px;font-size:24.72px;color:#666;letter-spacing:2.061px;font-weight:700;">2025-11-17T08:39:49.852Z</div><div style="position:absolute;left:1490px;top:1480.5px;width:71px;height:55px;border:2px solid #1a2a5a;border-radius:8px;background:#fff"></div><div class="t" style="left:1517.50px;top:1493.09px;font-size:28.84px;color:#1a2a5a;-webkit-text-stroke:0.55px #1a2a5a;">5</div><div style="position:absolute;left:1577px;top:1480.5px;width:459px;height:55px;background:#1a2a5a;border-radius:8px"></div><div class="t" style="left:1601.00px;top:1493.09px;font-size:28.84px;color:#fff;letter-spacing:0.111px;-webkit-text-stroke:0.55px #fff;">KnowledgeArticleUpdatedEvent</div><div class="t" style="left:2644.00px;top:1493.29px;font-size:28.84px;color:#999;letter-spacing:1.250px;">bfb2f9c</div><svg style="position:absolute;left:2595.1000000000004px;top:1487.3px;" width="41.3" height="41.3" viewBox="0 0 24 24"><path fill="#9a9a9a" d="M19 19H5V5h7V3H5c-1.11 0-2 .9-2 2v14c0 1.1.89 2 2 2h14c1.1 0 2-.9 2-2v-7h-2v7zM14 3v2h3.59l-9.83 9.83 1.41 1.41L19 6.41V10h2V3h-7z"/></svg><div class="t" style="left:2439.40px;top:1493.79px;font-size:24.72px;color:#111;letter-spacing:0.429px;">Command:</div><div style="position:absolute;left:1482px;top:1576px;width:1298px;height:299px;border:2px solid #cccccc;background:#fff"></div><div style="position:absolute;left:1484px;top:1578px;width:110px;height:253px;background:#e8e8e8"></div><div style="position:absolute;left:1594px;top:1578px;width:2px;height:253px;background:#d0d0d0"></div><div style="position:absolute;left:1484px;top:1586px;width:110px;height:36px;background:#dadada"></div><div style="position:absolute;left:1596px;top:1586px;width:1153px;height:36px;background:#f0f0f0"></div><div style="position:absolute;left:1608.5px;top:1622px;width:1.5px;height:209px;background:#e2e2e2"></div><div style="position:absolute;left:2749px;top:1578px;width:29px;height:253px;background:#f9f9f9;border-left:2px solid #e6e6e6"></div><div style="position:absolute;left:2756px;top:1579px;width:16px;height:19px;background:#c4c4c4;border-radius:8px"></div><div style="position:absolute;left:1596px;top:1578px;width:1153px;height:253px;overflow:hidden"><div style="position:absolute;left:-1596px;top:-1578px;width:2808px;height:2568px"><div class="t m" style="left:1606.60px;top:1592.22px;font-size:28px;letter-spacing:0.102px;transform:scaleY(1.08);transform-origin:0 21.28px"><span style="color:#9a9a9a">{</span></div><div class="t m" style="left:1606.60px;top:1628.22px;font-size:28px;letter-spacing:0.102px;transform:scaleY(1.08);transform-origin:0 21.28px"><span style="color:#111">  </span><span style="color:#111">"knowledgeArticleUuid"</span><span style="color:#9a9a9a">: </span><span style="color:#036a07">"d2b1372a-6066-4f86-843d-a6ee64357aef"</span><span style="color:#9a9a9a">,</span></div><div class="t m" style="left:1606.60px;top:1664.22px;font-size:28px;letter-spacing:0.102px;transform:scaleY(1.08);transform-origin:0 21.28px"><span style="color:#111">  </span><span style="color:#111">"thumbnailAssetUuid"</span><span style="color:#9a9a9a">: </span><span style="color:#036a07">"bf03c7fb-6f51-407a-99c5-2486bd07888d"</span><span style="color:#9a9a9a">,</span></div><div class="t m" style="left:1606.60px;top:1700.22px;font-size:28px;letter-spacing:0.102px;transform:scaleY(1.08);transform-origin:0 21.28px"><span style="color:#111">  </span><span style="color:#111">"thumbnailAssetBucketName"</span><span style="color:#9a9a9a">: </span><span style="color:#036a07">"ede42a27-c2d9-4531-9837-</span></div><div class="t m" style="left:1606.60px;top:1736.22px;font-size:28px;letter-spacing:0.102px;transform:scaleY(1.08);transform-origin:0 21.28px"><span style="color:#111">    </span><span style="color:#036a07">08fa2d14bb9a-public"</span><span style="color:#9a9a9a">,</span></div><div class="t m" style="left:1606.60px;top:1772.22px;font-size:28px;letter-spacing:0.102px;transform:scaleY(1.08);transform-origin:0 21.28px"><span style="color:#111">  </span><span style="color:#111">"thumbnailAssetObjectName"</span><span style="color:#9a9a9a">: </span><span style="color:#036a07">"bf03c7fb-6f51-407a-99c5-</span></div><div class="t m" style="left:1606.60px;top:1808.22px;font-size:28px;letter-spacing:0.102px;transform:scaleY(1.08);transform-origin:0 21.28px"><span style="color:#111">    </span><span style="color:#036a07">2486bd07888d"</span><span style="color:#9a9a9a">,</span></div></div></div><div class="t" style="left:1549.50px;top:1592.22px;font-size:28.00px;color:#9a9a9a;font-family:'Liberation Mono',monospace;transform:scale(1.0000,1.08);transform-origin:0 21.28px;">1</div><div class="t" style="left:1550.50px;top:1628.22px;font-size:28.00px;color:#9a9a9a;font-family:'Liberation Mono',monospace;transform:scale(1.0000,1.08);transform-origin:0 21.28px;">2</div><div class="t" style="left:1550.50px;top:1664.22px;font-size:28.00px;color:#9a9a9a;font-family:'Liberation Mono',monospace;transform:scale(1.0000,1.08);transform-origin:0 21.28px;">3</div><div class="t" style="left:1549.50px;top:1700.22px;font-size:28.00px;color:#9a9a9a;font-family:'Liberation Mono',monospace;transform:scale(1.0000,1.08);transform-origin:0 21.28px;">4</div><div class="t" style="left:1550.50px;top:1772.22px;font-size:28.00px;color:#9a9a9a;font-family:'Liberation Mono',monospace;transform:scale(1.0000,1.08);transform-origin:0 21.28px;">5</div><svg style="position:absolute;left:1577px;top:1607px" width="14" height="10" viewBox="0 0 14 10"><path d="M1 1 L7 8.5 L13 1" fill="none" stroke="#9a9a9a" stroke-width="1.6"/></svg><div style="position:absolute;left:1484px;top:1830.6px;width:1294px;height:42.4px;background:#e6e6e6;border-top:2px solid #cccccc"></div><div class="t" style="left:1486.00px;top:1842.22px;font-size:28.00px;color:#aaaaaa;letter-spacing:-0.176px;font-family:'Liberation Mono',monospace;transform:scale(1.0000,1.08);transform-origin:0 21.28px;">Line: 1  Column: 1</div><div style="position:absolute;left:1402px;top:1932px;width:30px;height:30px;border-radius:50%;background:#1a2a5a"></div><div style="position:absolute;left:1414px;top:1972px;width:6px;height:463px;background:#a3a9c1"></div><div class="t" style="left:1481.70px;top:1934.09px;font-size:24.72px;color:#666;letter-spacing:2.061px;font-weight:700;">2025-11-17T08:39:46.458Z</div><div style="position:absolute;left:1490px;top:1992.5px;width:71px;height:55px;border:2px solid #1a2a5a;border-radius:8px;background:#fff"></div><div class="t" style="left:1517.50px;top:2005.09px;font-size:28.84px;color:#1a2a5a;-webkit-text-stroke:0.55px #1a2a5a;">4</div><div style="position:absolute;left:1577px;top:1992.5px;width:459px;height:55px;background:#1a2a5a;border-radius:8px"></div><div class="t" style="left:1601.00px;top:2005.09px;font-size:28.84px;color:#fff;letter-spacing:0.111px;-webkit-text-stroke:0.55px #fff;">KnowledgeArticleUpdatedEvent</div><div class="t" style="left:2638.90px;top:2005.29px;font-size:28.84px;color:#999;letter-spacing:0.967px;">bcf63e7</div><svg style="position:absolute;left:2590.0000000000005px;top:1999.3px;" width="41.3" height="41.3" viewBox="0 0 24 24"><path fill="#9a9a9a" d="M19 19H5V5h7V3H5c-1.11 0-2 .9-2 2v14c0 1.1.89 2 2 2h14c1.1 0 2-.9 2-2v-7h-2v7zM14 3v2h3.59l-9.83 9.83 1.41 1.41L19 6.41V10h2V3h-7z"/></svg><div class="t" style="left:2434.30px;top:2005.79px;font-size:24.72px;color:#111;letter-spacing:0.429px;">Command:</div><div style="position:absolute;left:1482px;top:2088px;width:1298px;height:299px;border:2px solid #cccccc;background:#fff"></div><div style="position:absolute;left:1484px;top:2090px;width:110px;height:253px;background:#e8e8e8"></div><div style="position:absolute;left:1594px;top:2090px;width:2px;height:253px;background:#d0d0d0"></div><div style="position:absolute;left:1484px;top:2098px;width:110px;height:36px;background:#dadada"></div><div style="position:absolute;left:1596px;top:2098px;width:1153px;height:36px;background:#f0f0f0"></div><div style="position:absolute;left:1608.5px;top:2134px;width:1.5px;height:209px;background:#e2e2e2"></div><div style="position:absolute;left:2749px;top:2090px;width:29px;height:253px;background:#f9f9f9;border-left:2px solid #e6e6e6"></div><div style="position:absolute;left:2756px;top:2091px;width:16px;height:19px;background:#c4c4c4;border-radius:8px"></div><div style="position:absolute;left:1596px;top:2090px;width:1153px;height:253px;overflow:hidden"><div style="position:absolute;left:-1596px;top:-2090px;width:2808px;height:2568px"><div class="t m" style="left:1606.60px;top:2104.22px;font-size:28px;letter-spacing:0.102px;transform:scaleY(1.08);transform-origin:0 21.28px"><span style="color:#9a9a9a">{</span></div><div class="t m" style="left:1606.60px;top:2140.22px;font-size:28px;letter-spacing:0.102px;transform:scaleY(1.08);transform-origin:0 21.28px"><span style="color:#111">  </span><span style="color:#111">"knowledgeArticleUuid"</span><span style="color:#9a9a9a">: </span><span style="color:#036a07">"d2b1372a-6066-4f86-843d-a6ee64357aef"</span><span style="color:#9a9a9a">,</span></div><div class="t m" style="left:1606.60px;top:2176.22px;font-size:28px;letter-spacing:0.102px;transform:scaleY(1.08);transform-origin:0 21.28px"><span style="color:#111">  </span><span style="color:#111">"thumbnailAssetUuid"</span><span style="color:#9a9a9a">: </span><span style="color:#036a07">"bf03c7fb-6f51-407a-99c5-2486bd07888d"</span><span style="color:#9a9a9a">,</span></div><div class="t m" style="left:1606.60px;top:2212.22px;font-size:28px;letter-spacing:0.102px;transform:scaleY(1.08);transform-origin:0 21.28px"><span style="color:#111">  </span><span style="color:#111">"thumbnailAssetBucketName"</span><span style="color:#9a9a9a">: </span><span style="color:#036a07">"ede42a27-c2d9-4531-9837-</span></div><div class="t m" style="left:1606.60px;top:2248.22px;font-size:28px;letter-spacing:0.102px;transform:scaleY(1.08);transform-origin:0 21.28px"><span style="color:#111">    </span><span style="color:#036a07">08fa2d14bb9a-public"</span><span style="color:#9a9a9a">,</span></div><div class="t m" style="left:1606.60px;top:2284.22px;font-size:28px;letter-spacing:0.102px;transform:scaleY(1.08);transform-origin:0 21.28px"><span style="color:#111">  </span><span style="color:#111">"thumbnailAssetObjectName"</span><span style="color:#9a9a9a">: </span><span style="color:#036a07">"bf03c7fb-6f51-407a-99c5-</span></div><div class="t m" style="left:1606.60px;top:2320.22px;font-size:28px;letter-spacing:0.102px;transform:scaleY(1.08);transform-origin:0 21.28px"><span style="color:#111">    </span><span style="color:#036a07">2486bd07888d"</span><span style="color:#9a9a9a">,</span></div></div></div><div class="t" style="left:1549.50px;top:2104.22px;font-size:28.00px;color:#9a9a9a;font-family:'Liberation Mono',monospace;transform:scale(1.0000,1.08);transform-origin:0 21.28px;">1</div><div class="t" style="left:1550.50px;top:2140.22px;font-size:28.00px;color:#9a9a9a;font-family:'Liberation Mono',monospace;transform:scale(1.0000,1.08);transform-origin:0 21.28px;">2</div><div class="t" style="left:1550.50px;top:2176.22px;font-size:28.00px;color:#9a9a9a;font-family:'Liberation Mono',monospace;transform:scale(1.0000,1.08);transform-origin:0 21.28px;">3</div><div class="t" style="left:1549.50px;top:2212.22px;font-size:28.00px;color:#9a9a9a;font-family:'Liberation Mono',monospace;transform:scale(1.0000,1.08);transform-origin:0 21.28px;">4</div><div class="t" style="left:1550.50px;top:2284.22px;font-size:28.00px;color:#9a9a9a;font-family:'Liberation Mono',monospace;transform:scale(1.0000,1.08);transform-origin:0 21.28px;">5</div><svg style="position:absolute;left:1577px;top:2119px" width="14" height="10" viewBox="0 0 14 10"><path d="M1 1 L7 8.5 L13 1" fill="none" stroke="#9a9a9a" stroke-width="1.6"/></svg><div style="position:absolute;left:1484px;top:2342.6px;width:1294px;height:42.4px;background:#e6e6e6;border-top:2px solid #cccccc"></div><div class="t" style="left:1486.00px;top:2354.22px;font-size:28.00px;color:#aaaaaa;letter-spacing:-0.176px;font-family:'Liberation Mono',monospace;transform:scale(1.0000,1.08);transform-origin:0 21.28px;">Line: 1  Column: 1</div><div style="position:absolute;left:1402px;top:2444px;width:30px;height:30px;border-radius:50%;background:#1a2a5a"></div><div style="position:absolute;left:1414px;top:2484px;width:6px;height:200px;background:#a3a9c1"></div><div class="t" style="left:1481.70px;top:2446.09px;font-size:24.72px;color:#666;letter-spacing:2.061px;font-weight:700;">2025-11-17T08:38:21.106Z</div><div style="position:absolute;left:1490px;top:2504.5px;width:71px;height:55px;border:2px solid #1a2a5a;border-radius:8px;background:#fff"></div><div class="t" style="left:1517.50px;top:2517.09px;font-size:28.84px;color:#1a2a5a;-webkit-text-stroke:0.55px #1a2a5a;">3</div><div style="position:absolute;left:1577px;top:2504.5px;width:459px;height:55px;background:#1a2a5a;border-radius:8px"></div><div class="t" style="left:1601.00px;top:2517.09px;font-size:28.84px;color:#fff;letter-spacing:0.111px;-webkit-text-stroke:0.55px #fff;">KnowledgeArticleUpdatedEvent</div><div class="t" style="left:2637.50px;top:2517.29px;font-size:28.84px;color:#999;letter-spacing:0.833px;">07560f7</div><svg style="position:absolute;left:2587.6000000000004px;top:2511.3px;" width="41.3" height="41.3" viewBox="0 0 24 24"><path fill="#9a9a9a" d="M19 19H5V5h7V3H5c-1.11 0-2 .9-2 2v14c0 1.1.89 2 2 2h14c1.1 0 2-.9 2-2v-7h-2v7zM14 3v2h3.59l-9.83 9.83 1.41 1.41L19 6.41V10h2V3h-7z"/></svg><div class="t" style="left:2431.90px;top:2517.79px;font-size:24.72px;color:#111;letter-spacing:0.429px;">Command:</div><div style="position:absolute;left:1482px;top:2600px;width:1298px;height:299px;border:2px solid #cccccc;background:#fff"></div><div style="position:absolute;left:1484px;top:2602px;width:110px;height:253px;background:#e8e8e8"></div><div style="position:absolute;left:1594px;top:2602px;width:2px;height:253px;background:#d0d0d0"></div><div style="position:absolute;left:1484px;top:2610px;width:110px;height:36px;background:#dadada"></div><div style="position:absolute;left:1596px;top:2610px;width:1153px;height:36px;background:#f0f0f0"></div><div style="position:absolute;left:1608.5px;top:2646px;width:1.5px;height:209px;background:#e2e2e2"></div><div style="position:absolute;left:2749px;top:2602px;width:29px;height:253px;background:#f9f9f9;border-left:2px solid #e6e6e6"></div><div style="position:absolute;left:2756px;top:2603px;width:16px;height:19px;background:#c4c4c4;border-radius:8px"></div><div style="position:absolute;left:1596px;top:2602px;width:1153px;height:253px;overflow:hidden"><div style="position:absolute;left:-1596px;top:-2602px;width:2808px;height:2568px"><div class="t m" style="left:1606.60px;top:2616.22px;font-size:28px;letter-spacing:0.102px;transform:scaleY(1.08);transform-origin:0 21.28px"><span style="color:#9a9a9a">{</span></div><div class="t m" style="left:1606.60px;top:2652.22px;font-size:28px;letter-spacing:0.102px;transform:scaleY(1.08);transform-origin:0 21.28px"><span style="color:#111">  </span><span style="color:#111">"knowledgeArticleUuid"</span><span style="color:#9a9a9a">: </span><span style="color:#036a07">"d2b1372a-6066-4f86-843d-a6ee64357aef"</span><span style="color:#9a9a9a">,</span></div><div class="t m" style="left:1606.60px;top:2688.22px;font-size:28px;letter-spacing:0.102px;transform:scaleY(1.08);transform-origin:0 21.28px"><span style="color:#111">  </span><span style="color:#111">"thumbnailAssetUuid"</span><span style="color:#9a9a9a">: </span><span style="color:#036a07">"bf03c7fb-6f51-407a-99c5-2486bd07888d"</span><span style="color:#9a9a9a">,</span></div><div class="t m" style="left:1606.60px;top:2724.22px;font-size:28px;letter-spacing:0.102px;transform:scaleY(1.08);transform-origin:0 21.28px"><span style="color:#111">  </span><span style="color:#111">"thumbnailAssetBucketName"</span><span style="color:#9a9a9a">: </span><span style="color:#036a07">"ede42a27-c2d9-4531-9837-</span></div><div class="t m" style="left:1606.60px;top:2760.22px;font-size:28px;letter-spacing:0.102px;transform:scaleY(1.08);transform-origin:0 21.28px"><span style="color:#111">    </span><span style="color:#036a07">08fa2d14bb9a-public"</span><span style="color:#9a9a9a">,</span></div><div class="t m" style="left:1606.60px;top:2796.22px;font-size:28px;letter-spacing:0.102px;transform:scaleY(1.08);transform-origin:0 21.28px"><span style="color:#111">  </span><span style="color:#111">"thumbnailAssetObjectName"</span><span style="color:#9a9a9a">: </span><span style="color:#036a07">"bf03c7fb-6f51-407a-99c5-</span></div><div class="t m" style="left:1606.60px;top:2832.22px;font-size:28px;letter-spacing:0.102px;transform:scaleY(1.08);transform-origin:0 21.28px"><span style="color:#111">    </span><span style="color:#036a07">2486bd07888d"</span><span style="color:#9a9a9a">,</span></div></div></div><div class="t" style="left:1549.50px;top:2616.22px;font-size:28.00px;color:#9a9a9a;font-family:'Liberation Mono',monospace;transform:scale(1.0000,1.08);transform-origin:0 21.28px;">1</div><div class="t" style="left:1550.50px;top:2652.22px;font-size:28.00px;color:#9a9a9a;font-family:'Liberation Mono',monospace;transform:scale(1.0000,1.08);transform-origin:0 21.28px;">2</div><div class="t" style="left:1550.50px;top:2688.22px;font-size:28.00px;color:#9a9a9a;font-family:'Liberation Mono',monospace;transform:scale(1.0000,1.08);transform-origin:0 21.28px;">3</div><div class="t" style="left:1549.50px;top:2724.22px;font-size:28.00px;color:#9a9a9a;font-family:'Liberation Mono',monospace;transform:scale(1.0000,1.08);transform-origin:0 21.28px;">4</div><div class="t" style="left:1550.50px;top:2796.22px;font-size:28.00px;color:#9a9a9a;font-family:'Liberation Mono',monospace;transform:scale(1.0000,1.08);transform-origin:0 21.28px;">5</div><svg style="position:absolute;left:1577px;top:2631px" width="14" height="10" viewBox="0 0 14 10"><path d="M1 1 L7 8.5 L13 1" fill="none" stroke="#9a9a9a" stroke-width="1.6"/></svg><div style="position:absolute;left:1484px;top:2854.6px;width:1294px;height:42.4px;background:#e6e6e6;border-top:2px solid #cccccc"></div><div class="t" style="left:1486.00px;top:2866.22px;font-size:28.00px;color:#aaaaaa;letter-spacing:-0.176px;font-family:'Liberation Mono',monospace;transform:scale(1.0000,1.08);transform-origin:0 21.28px;">Line: 1  Column: 1</div></div></div></div><script>(function(){try{var w=window.innerWidth;if(w&&Math.abs(w-2808)>4){document.documentElement.style.zoom=(w/2808);}}catch(e){}})();</script></body></html>
